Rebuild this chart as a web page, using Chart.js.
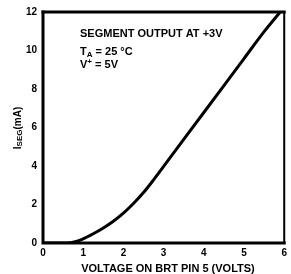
<!DOCTYPE html>
<html><head><meta charset="utf-8">
<script src="https://cdn.jsdelivr.net/npm/chart.js@4"></script>
<style>html,body{margin:0;padding:0;background:#fff}#wrap{width:291px;height:274px;position:relative}</style>
</head><body><div id="wrap"><canvas id="c"></canvas></div>
<script>
const voltage = [0, 0.6, 0.8, 1.0, 1.25, 1.5, 1.75, 2.0, 2.25, 2.5, 2.75, 3.0, 3.5, 4.0, 4.5, 5.0, 5.5, 5.9];
const isegmA  = [0, 0, 0.07, 0.22, 0.48, 0.78, 1.13, 1.55, 2.05, 2.62, 3.28, 3.98, 5.38, 6.78, 8.18, 9.58, 10.98, 12];
const xTicks = [0, 1, 2, 3, 4, 5, 6];
const yTicks = [0, 2, 4, 6, 8, 10, 12];
const noteTitle = "SEGMENT OUTPUT AT +3V";
const xTitle = "VOLTAGE ON BRT PIN 5 (VOLTS)";
const yTitleMain = "I", yTitleSub = "SEG", yTitleRest = "(mA)";

const FONT = '"Liberation Sans", Arial, sans-serif';
const deco = {
  id: 'deco',
  afterDraw(chart) {
    const {ctx, chartArea: a} = chart;
    ctx.save();
    ctx.strokeStyle = '#000';
    ctx.lineCap = 'square';
    ctx.lineWidth = 3;
    ctx.beginPath(); ctx.moveTo(a.left, a.top); ctx.lineTo(a.left, a.bottom); ctx.lineTo(a.right, a.bottom); ctx.stroke();
    ctx.beginPath(); ctx.moveTo(a.left, a.top); ctx.lineTo(a.right, a.top); ctx.stroke();
    ctx.lineWidth = 2;
    ctx.beginPath(); ctx.moveTo(a.right, a.top); ctx.lineTo(a.right, a.bottom); ctx.stroke();
    ctx.fillStyle = '#000';
    ctx.textBaseline = 'alphabetic';
    ctx.textAlign = 'left';
    ctx.font = 'bold 11px ' + FONT;
    ctx.fillText(noteTitle, 80, 37);
    let x = 80, y = 55;
    ctx.fillText('T', x, y); x += ctx.measureText('T').width;
    ctx.font = 'bold 8px ' + FONT; ctx.fillText('A', x, y + 2); x += ctx.measureText('A').width;
    ctx.font = 'bold 11px ' + FONT; ctx.fillText(' = 25 °C', x, y);
    x = 80; y = 68;
    ctx.fillText('V', x, y); x += ctx.measureText('V').width;
    ctx.font = 'bold 8px ' + FONT; ctx.fillText('+', x, y - 4); x += ctx.measureText('+').width;
    ctx.font = 'bold 11px ' + FONT; ctx.fillText(' = 5V', x, y);
    ctx.font = 'bold 11px ' + FONT;
    ctx.textAlign = 'center';
    ctx.fillText(xTitle, 168, 272);
    ctx.translate(21, 128);
    ctx.rotate(-Math.PI / 2);
    ctx.textAlign = 'left';
    ctx.font = 'bold 10px ' + FONT;
    const w1 = ctx.measureText(yTitleMain).width;
    ctx.font = 'bold 8px ' + FONT;
    const w2 = ctx.measureText(yTitleSub).width;
    ctx.font = 'bold 10px ' + FONT;
    const w3 = ctx.measureText(yTitleRest).width;
    let tx = -(w1 + w2 + w3) / 2;
    ctx.fillText(yTitleMain, tx, 0); tx += w1;
    ctx.font = 'bold 8px ' + FONT; ctx.fillText(yTitleSub, tx, 1); tx += w2;
    ctx.font = 'bold 10px ' + FONT; ctx.fillText(yTitleRest, tx, 0);
    ctx.restore();
  }
};

new Chart(document.getElementById('c'), {
  type: 'line',
  data: {
    datasets: [{
      data: voltage.map((v, i) => ({x: v, y: isegmA[i]})),
      borderColor: '#000',
      borderWidth: 3,
      pointRadius: 0,
      cubicInterpolationMode: 'monotone',
      fill: false
    }]
  },
  options: {
    responsive: true,
    maintainAspectRatio: false,
    animation: false,
    layout: {padding: {top: 10, right: 2, left: 0, bottom: 0}},
    plugins: {legend: {display: false}, tooltip: {enabled: false}},
    scales: {
      x: {
        type: 'linear', min: 0, max: 6,
        afterBuildTicks: s => { s.ticks = xTicks.map(v => ({value: v})); },
        afterFit: s => { s.height = 31; },
        grid: {display: false, drawTicks: false},
        border: {display: false},
        ticks: {color: '#000', font: {family: FONT, size: 10, weight: 'bold'}, padding: 4, maxRotation: 0}
      },
      y: {
        type: 'linear', min: 0, max: 12,
        afterBuildTicks: s => { s.ticks = yTicks.map(v => ({value: v})); },
        afterFit: s => { s.width = 43; },
        grid: {display: false, drawTicks: false},
        border: {display: false},
        ticks: {color: '#000', font: {family: FONT, size: 10, weight: 'bold'}, padding: 6}
      }
    }
  },
  plugins: [deco]
});
</script></body></html>
